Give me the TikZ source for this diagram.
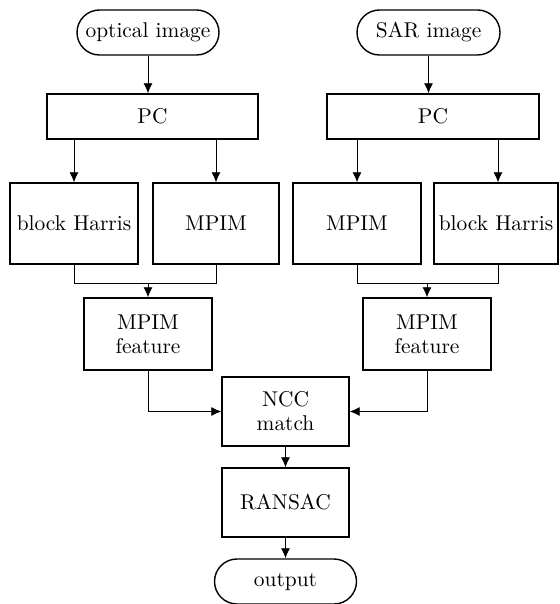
\documentclass[tikz,border=0pt]{standalone}
\usetikzlibrary{arrows.meta,shapes.misc}
\begin{document}
\begin{tikzpicture}[x=0.5pt,y=-0.5pt,
  font=\fontsize{10.7}{12}\selectfont,
  boxnode/.style={draw, line width=0.7pt, rectangle, inner sep=0pt, align=center},
  termnode/.style={draw, line width=0.7pt, rounded rectangle, inner sep=0pt, align=center},
  conn/.style={line width=0.4pt, -{Latex[length=5pt,width=4.5pt]}},
  plain/.style={line width=0.4pt}]
\useasboundingbox (0,0) rectangle (560,604);
% left branch
\node[termnode, minimum width=71pt, minimum height=22.5pt] (opt) at (148,32.5) {optical image};
\node[boxnode, minimum width=105.5pt, minimum height=22.5pt] (pcL) at (152.5,116.5) {PC};
\node[boxnode, minimum width=64pt, minimum height=40.5pt] (bhL) at (74,223.5) {block Harris};
\node[boxnode, minimum width=63pt, minimum height=40.5pt] (mpL) at (216,223.5) {MPIM};
\node[boxnode, minimum width=64pt, minimum height=36pt] (mfL) at (148,334) {MPIM\\feature};
% right branch
\node[termnode, minimum width=71.5pt, minimum height=22.5pt] (sar) at (428.5,32.5) {SAR image};
\node[boxnode, minimum width=106pt, minimum height=22.5pt] (pcR) at (433,116.5) {PC};
\node[boxnode, minimum width=64pt, minimum height=40.5pt] (mpR) at (357,223.5) {MPIM};
\node[boxnode, minimum width=62pt, minimum height=40.5pt] (bhR) at (496,223.5) {block Harris};
\node[boxnode, minimum width=64pt, minimum height=36pt] (mfR) at (427,334) {MPIM\\feature};
% bottom
\node[boxnode, minimum width=63.5pt, minimum height=34.5pt] (ncc) at (285.5,411.5) {NCC\\match};
\node[boxnode, minimum width=63.5pt, minimum height=34.5pt] (ran) at (285.5,502.5) {RANSAC};
\node[termnode, minimum width=71pt, minimum height=22.5pt] (out) at (285.5,581.5) {output};
% junction coordinates
\coordinate (jL) at (148,283);
\coordinate (jR) at (427,283);
% connectors
\draw[conn] (opt.south) -- (opt.south |- pcL.north);
\draw[conn] (sar.south) -- (sar.south |- pcR.north);
\draw[conn] (bhL.north |- pcL.south) -- (bhL.north);
\draw[conn] (mpL.north |- pcL.south) -- (mpL.north);
\draw[conn] (mpR.north |- pcR.south) -- (mpR.north);
\draw[conn] ([xshift=1pt]bhR.north |- pcR.south) -- ([xshift=1pt]bhR.north);
\draw[plain] (bhL.south) -- (bhL.south |- jL) -- (mpL.south |- jL) -- (mpL.south);
\draw[conn] (jL) -- (mfL.north);
\draw[plain] (mpR.south) -- (mpR.south |- jR) -- ([xshift=1pt]bhR.south |- jR) -- ([xshift=1pt]bhR.south);
\draw[conn] (jR) -- (mfR.north);
\draw[conn] (mfL.south) |- (ncc.west);
\draw[conn] (mfR.south) |- (ncc.east);
\draw[conn] (ncc.south) -- (ran.north);
\draw[conn] (ran.south) -- (out.north);
\end{tikzpicture}
\end{document}
